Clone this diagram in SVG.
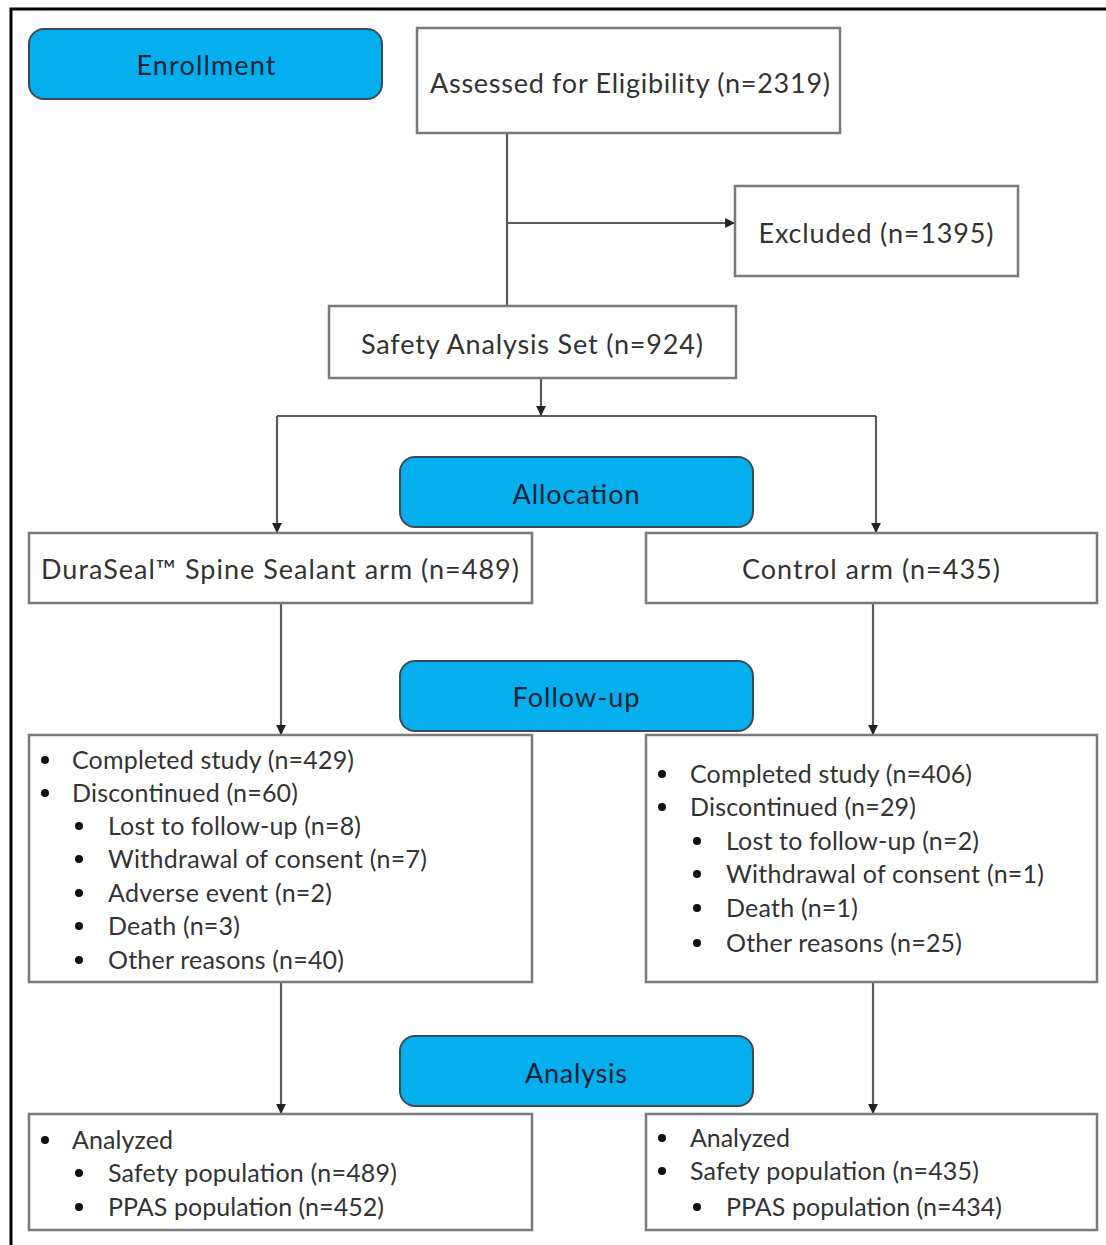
<svg xmlns="http://www.w3.org/2000/svg" width="1106" height="1245" viewBox="0 0 1106 1245">
<style>
.box{fill:#fff;stroke:#7a7a7a;stroke-width:2.5}
.hdr{fill:#05AEEC;stroke:#3c4a55;stroke-width:2}
.ht{font-family:Lato,"Open Sans",sans-serif;font-size:27px;fill:#0d2234;text-anchor:middle;dominant-baseline:central}
.t{font-family:Lato,"Open Sans",sans-serif;font-size:27px;fill:#333;text-anchor:middle;dominant-baseline:central}
.b{font-family:Lato,"Open Sans",sans-serif;font-size:25px;fill:#333;dominant-baseline:central}
.dot{fill:#111}
.ln{fill:none;stroke:#5a5a5a;stroke-width:2.2}
</style>
<defs>
<marker id="ah" viewBox="0 0 10 10" refX="10" refY="5" markerWidth="4.5" markerHeight="4.5" orient="auto" markerUnits="strokeWidth">
<path d="M0,0 L10,5 L0,10 z" fill="#222"/>
</marker>
</defs>
<rect width="1106" height="1245" fill="#fff"/>
<path d="M11,1245 V9 H1106" fill="none" stroke="#000" stroke-width="3"/>

<g id="connectors">
<path class="ln" d="M507,133 V306"/>
<path class="ln" d="M507,223 H735" marker-end="url(#ah)"/>
<path class="ln" d="M541,378 V416" marker-end="url(#ah)"/>
<path class="ln" d="M277,416 H876"/>
<path class="ln" d="M277,416 V533" marker-end="url(#ah)"/>
<path class="ln" d="M876,416 V533" marker-end="url(#ah)"/>
<path class="ln" d="M281,603 V735" marker-end="url(#ah)"/>
<path class="ln" d="M873,603 V735" marker-end="url(#ah)"/>
<path class="ln" d="M281,982 V1114" marker-end="url(#ah)"/>
<path class="ln" d="M873,982 V1114" marker-end="url(#ah)"/>
</g>

<g id="enrollment">
<rect class="hdr" x="29" y="29" width="353" height="70" rx="15"/>
<text class="ht" x="206" y="64" textLength="139" lengthAdjust="spacing">Enrollment</text>
</g>
<g id="assessed">
<rect class="box" x="417" y="28" width="423" height="105"/>
<text class="t" x="630" y="82" textLength="400" lengthAdjust="spacing">Assessed for Eligibility (n=2319)</text>
</g>
<g id="excluded">
<rect class="box" x="735" y="186" width="283" height="90"/>
<text class="t" x="876" y="232" textLength="235" lengthAdjust="spacing">Excluded (n=1395)</text>
</g>
<g id="safety-set">
<rect class="box" x="329" y="306" width="407" height="72"/>
<text class="t" x="532" y="343" textLength="342" lengthAdjust="spacing">Safety Analysis Set (n=924)</text>
</g>
<g id="allocation">
<rect class="hdr" x="400" y="457" width="353" height="70" rx="15"/>
<text class="ht" x="576" y="493" textLength="127" lengthAdjust="spacing">Allocation</text>
</g>
<g id="duraseal-arm">
<rect class="box" x="29" y="533" width="503" height="70"/>
<text class="t" x="280" y="568" textLength="478" lengthAdjust="spacing">DuraSeal™ Spine Sealant arm (n=489)</text>
</g>
<g id="control-arm">
<rect class="box" x="646" y="533" width="451" height="70"/>
<text class="t" x="871" y="568" textLength="258" lengthAdjust="spacing">Control arm (n=435)</text>
</g>
<g id="follow-up">
<rect class="hdr" x="400" y="661" width="353" height="70" rx="15"/>
<text class="ht" x="576" y="696" textLength="127" lengthAdjust="spacing">Follow-up</text>
</g>
<g id="followup-left">
<rect class="box" x="29" y="735" width="503" height="247"/>
<circle class="dot" cx="45" cy="760" r="4"/><text class="b" x="72" y="759" textLength="282" lengthAdjust="spacing">Completed study (n=429)</text>
<circle class="dot" cx="45" cy="793" r="4"/><text class="b" x="72" y="792" textLength="226" lengthAdjust="spacing">Discontinued (n=60)</text>
<circle class="dot" cx="79" cy="826" r="4"/><text class="b" x="108" y="825" textLength="253" lengthAdjust="spacing">Lost to follow-up (n=8)</text>
<circle class="dot" cx="79" cy="859" r="4"/><text class="b" x="108" y="858" textLength="319" lengthAdjust="spacing">Withdrawal of consent (n=7)</text>
<circle class="dot" cx="79" cy="893" r="4"/><text class="b" x="108" y="892" textLength="224" lengthAdjust="spacing">Adverse event (n=2)</text>
<circle class="dot" cx="79" cy="926" r="4"/><text class="b" x="108" y="925" textLength="132" lengthAdjust="spacing">Death (n=3)</text>
<circle class="dot" cx="79" cy="960" r="4"/><text class="b" x="108" y="959" textLength="236" lengthAdjust="spacing">Other reasons (n=40)</text>
</g>
<g id="followup-right">
<rect class="box" x="646" y="735" width="451" height="247"/>
<circle class="dot" cx="662" cy="774" r="4"/><text class="b" x="690" y="773" textLength="282" lengthAdjust="spacing">Completed study (n=406)</text>
<circle class="dot" cx="662" cy="807" r="4"/><text class="b" x="690" y="806" textLength="226" lengthAdjust="spacing">Discontinued (n=29)</text>
<circle class="dot" cx="697" cy="841" r="4"/><text class="b" x="726" y="840" textLength="253" lengthAdjust="spacing">Lost to follow-up (n=2)</text>
<circle class="dot" cx="697" cy="874" r="4"/><text class="b" x="726" y="873" textLength="318" lengthAdjust="spacing">Withdrawal of consent (n=1)</text>
<circle class="dot" cx="697" cy="908" r="4"/><text class="b" x="726" y="907" textLength="132" lengthAdjust="spacing">Death (n=1)</text>
<circle class="dot" cx="697" cy="943" r="4"/><text class="b" x="726" y="942" textLength="236" lengthAdjust="spacing">Other reasons (n=25)</text>
</g>
<g id="analysis">
<rect class="hdr" x="400" y="1036" width="353" height="70" rx="15"/>
<text class="ht" x="576" y="1072" textLength="102" lengthAdjust="spacing">Analysis</text>
</g>
<g id="analysis-left">
<rect class="box" x="29" y="1114" width="503" height="116"/>
<circle class="dot" cx="45" cy="1140" r="4"/><text class="b" x="72" y="1139" textLength="101" lengthAdjust="spacing">Analyzed</text>
<circle class="dot" cx="79" cy="1173" r="4"/><text class="b" x="108" y="1172" textLength="289" lengthAdjust="spacing">Safety population (n=489)</text>
<circle class="dot" cx="79" cy="1207" r="4"/><text class="b" x="108" y="1206" textLength="276" lengthAdjust="spacing">PPAS population (n=452)</text>
</g>
<g id="analysis-right">
<rect class="box" x="646" y="1114" width="451" height="116"/>
<circle class="dot" cx="662" cy="1138" r="4"/><text class="b" x="690" y="1137" textLength="100" lengthAdjust="spacing">Analyzed</text>
<circle class="dot" cx="662" cy="1171" r="4"/><text class="b" x="690" y="1170" textLength="289" lengthAdjust="spacing">Safety population (n=435)</text>
<circle class="dot" cx="697" cy="1207" r="4"/><text class="b" x="726" y="1206" textLength="276" lengthAdjust="spacing">PPAS population (n=434)</text>
</g>
</svg>
